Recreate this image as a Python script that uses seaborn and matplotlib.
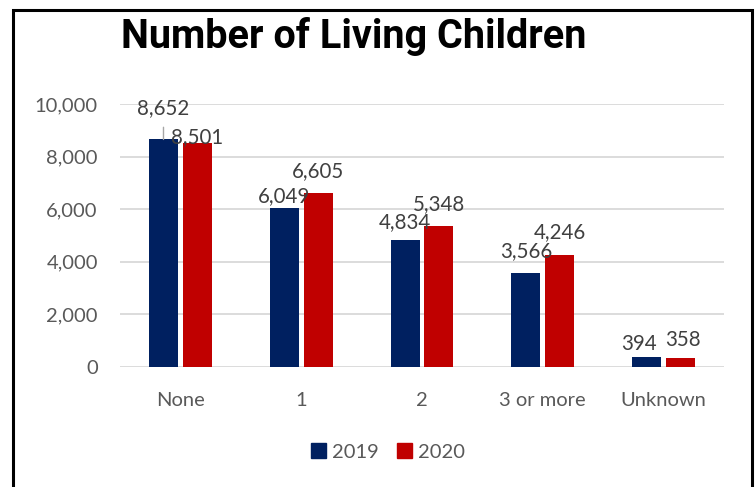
# -*- coding: utf-8 -*-
import matplotlib
matplotlib.use("Agg")
import matplotlib.pyplot as plt
import matplotlib.patches as patches
import matplotlib.ticker as mticker
import numpy as np
import pandas as pd
import seaborn as sns


# Data, ..........................................................
categories = ["None", "1", "2", "3 or more", "Unknown"]
years = ["2019", "2020"]
values_2019 = [8652, 6049, 4834, 3566, 394]
values_2020 = [8501, 6605, 5348, 4246, 358]
y_ticks = [0, 2000, 4000, 6000, 8000, 10000]

# label nudges (points), Excel moved some labels by hand
label_dy_2019 = [18, 4.3, 8.6, 11.5, 5]
label_dy_2020 = [0, 11.5, 11.5, 12.2, 8.6]
label_dx_2019 = [0, 0, 0, 0, -5.5]
label_dx_2020 = [0, 0, 0, 0, 2]

colors = {"2019": "#002060", "2020": "#C00000"}

df = pd.DataFrame({
    "category": categories * 2,
    "year": [years[0]] * len(categories) + [years[1]] * len(categories),
    "value": values_2019 + values_2020,
})

# Figure, ........................................................
sns.set_style("white")
plt.rcParams["font.family"] = ["Lato", "DejaVu Sans"]

fig = plt.figure(figsize=(7.56, 4.87), dpi=100, facecolor="white")
ax = fig.add_axes([120 / 756, 1 - 367 / 487, 604 / 756, 263 / 487])

sns.barplot(
    data=df, x="category", y="value", hue="year",
    order=categories, hue_order=years, palette=colors,
    width=0.56, gap=0.143, linewidth=0, saturation=1,
    legend=False, ax=ax,
)

# Axes, ..........................................................
ax.set_ylim(0, 10000)
ax.set_yticks(y_ticks)
ax.yaxis.set_major_formatter(mticker.FuncFormatter(lambda v, p: f"{int(v):,}"))
ax.set_xlabel("")
ax.set_ylabel("")
ax.grid(axis="y", color="#d9d9d9", linewidth=1.3)
ax.set_axisbelow(True)
for s in ax.spines.values():
    s.set_visible(False)
ax.tick_params(axis="y", length=0, pad=16, labelsize=14.5, labelcolor="#595959")
ax.tick_params(axis="x", length=0, pad=18, labelsize=14.5, labelcolor="#595959")

# data labels
offsets = [-0.14, 0.14]
for j, (vals, dys, dxs) in enumerate([
        (values_2019, label_dy_2019, label_dx_2019),
        (values_2020, label_dy_2020, label_dx_2020)]):
    for i, v in enumerate(vals):
        arrow = None
        if dys[i] >= 15:
            arrow = dict(arrowstyle="-", color="#a6a6a6", lw=1,
                         shrinkA=4, shrinkB=0)
        ax.annotate(
            f"{v:,}", xy=(i + offsets[j], v),
            xytext=(dxs[i], dys[i]), textcoords="offset points",
            ha="center", va="baseline", fontsize=14.8, color="#404040",
            arrowprops=arrow,
        )

# Legend, ........................................................
handles = [patches.Patch(color=colors[y], label=y) for y in years]
fig.legend(
    handles=handles, loc="center", bbox_to_anchor=(388 / 756, 1 - 452 / 487),
    ncol=2, frameon=False, fontsize=14.5, labelcolor="#595959",
    handlelength=0.7, handleheight=0.75, handletextpad=0.3,
    columnspacing=0.95,
)

# Title and border, ...............................................
fig.text(
    353.5 / 756, 1 - 48 / 487, "Number of Living Children",
    ha="center", va="baseline", fontsize=28.5, fontweight="bold",
    family=["Roboto", "DejaVu Sans"], color="black",
)
fig.patches.append(patches.Rectangle(
    (13 / 756, -0.05), 739 / 756, 1.05 - 9.7 / 487,
    transform=fig.transFigure, fill=False, edgecolor="black",
    linewidth=2.2, clip_on=False,
))

fig.savefig("out.png", dpi=100, facecolor="white")
